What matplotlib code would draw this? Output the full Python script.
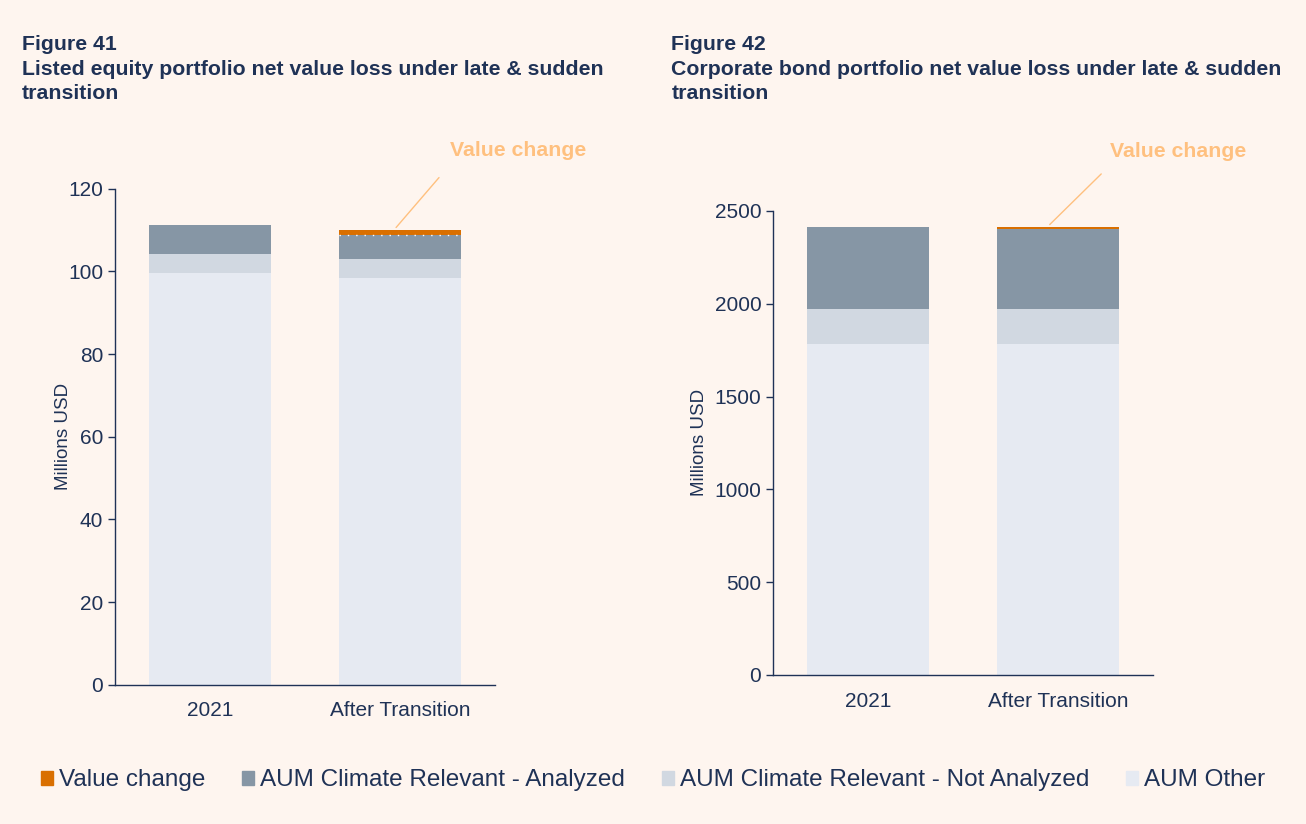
import matplotlib
matplotlib.use('Agg')
import matplotlib.pyplot as plt
from matplotlib.patches import Patch

plt.rcParams['font.family'] = ['Liberation Sans', 'DejaVu Sans']

categories = ['2021', 'After Transition']
series_names = ['Value change', 'AUM Climate Relevant - Analyzed',
                'AUM Climate Relevant - Not Analyzed', 'AUM Other']

# listed equity, millions USD
eq_other = [99.7, 98.4]
eq_not_analyzed = [4.6, 4.5]
eq_analyzed = [7.0, 6.0]
eq_value_change = [0.0, 1.2]

# corporate bonds, millions USD
bd_other = [1783, 1783]
bd_not_analyzed = [189, 189]
bd_analyzed = [442, 432]
bd_value_change = [0, 12]

bg = '#fef5ef'
navy = '#1f3256'
c_change = '#d96f00'
c_analyzed = '#8696a5'
c_not_analyzed = '#d1d8e1'
c_other = '#e6eaf2'
c_note = '#ffc07f'

fig = plt.figure(figsize=(13.06, 8.24), dpi=100, facecolor=bg)
ax1 = fig.add_axes([0.088, 0.169, 0.291, 0.602])
ax2 = fig.add_axes([0.592, 0.181, 0.291, 0.563])

w = 0.64


def stack(ax, other, not_an, an, change):
    x = list(range(len(categories)))
    ax.bar(x, other, w, color=c_other)
    ax.bar(x, not_an, w, bottom=other, color=c_not_analyzed)
    b2 = [o + n for o, n in zip(other, not_an)]
    ax.bar(x, an, w, bottom=b2, color=c_analyzed)
    b3 = [b + a for b, a in zip(b2, an)]
    ax.bar(x, change, w, bottom=b3, color=c_change)
    ax.set_facecolor(bg)
    ax.set_xlim(-0.5, 1.5)
    ax.set_xticks(x)
    ax.set_xticklabels(categories)
    for s in ['top', 'right']:
        ax.spines[s].set_visible(False)
    for s in ['left', 'bottom']:
        ax.spines[s].set_color(navy)
        ax.spines[s].set_linewidth(1.0)
    ax.tick_params(colors=navy, labelsize=15, length=5, width=1)
    ax.tick_params(axis='x', length=0, pad=12)
    ax.set_ylabel('Millions USD', color=navy, fontsize=13.5)
    return b3


tops1 = stack(ax1, eq_other, eq_not_analyzed, eq_analyzed, eq_value_change)
ax1.set_ylim(0, 120)
ax1.set_yticks(range(0, 121, 20))
ax1.yaxis.set_label_coords(-0.113, 0.5)
# dotted seam under the equity value change slice
ax1.plot([1 - w / 2, 1 + w / 2], [tops1[1], tops1[1]], color='white',
         ls=(0, (1, 5)), lw=1.0)

tops2 = stack(ax2, bd_other, bd_not_analyzed, bd_analyzed, bd_value_change)
ax2.set_ylim(0, 2500)
ax2.set_yticks(range(0, 2501, 500))
ax2.yaxis.set_label_coords(-0.171, 0.5)

# callouts for the value change slice
top1 = tops1[1] + eq_value_change[1]
ax1.annotate('', xy=(0.97, top1), xytext=(1.215, 123.2),
             arrowprops=dict(arrowstyle='-', color=c_note, lw=1.0),
             annotation_clip=False)
ax1.text(1.62, 129.3, 'Value change', color=c_note, fontsize=15.3,
         fontweight='bold', ha='center', va='center')

top2 = tops2[1] + bd_value_change[1]
ax2.annotate('', xy=(0.945, top2), xytext=(1.237, 2710),
             arrowprops=dict(arrowstyle='-', color=c_note, lw=1.0),
             annotation_clip=False)
ax2.text(1.63, 2820, 'Value change', color=c_note, fontsize=15.3,
         fontweight='bold', ha='center', va='center')

fig.text(0.017, 0.957, 'Figure 41\nListed equity portfolio net value loss under late & sudden\ntransition',
         color=navy, fontsize=15.3, fontweight='bold', va='top', linespacing=1.36)
fig.text(0.514, 0.957, 'Figure 42\nCorporate bond portfolio net value loss under late & sudden\ntransition',
         color=navy, fontsize=15.3, fontweight='bold', va='top', linespacing=1.36)

handles = [Patch(color=c) for c in [c_change, c_analyzed, c_not_analyzed, c_other]]
leg = fig.legend(handles, series_names, loc='center', bbox_to_anchor=(0.5, 0.053),
                 ncol=4, frameon=False, handlelength=0.5, handleheight=0.5,
                 handletextpad=0.25, columnspacing=1.5,
                 prop={'size': 17.5})
for t in leg.get_texts():
    t.set_color(navy)

fig.savefig('out.png', dpi=100, facecolor=bg)
